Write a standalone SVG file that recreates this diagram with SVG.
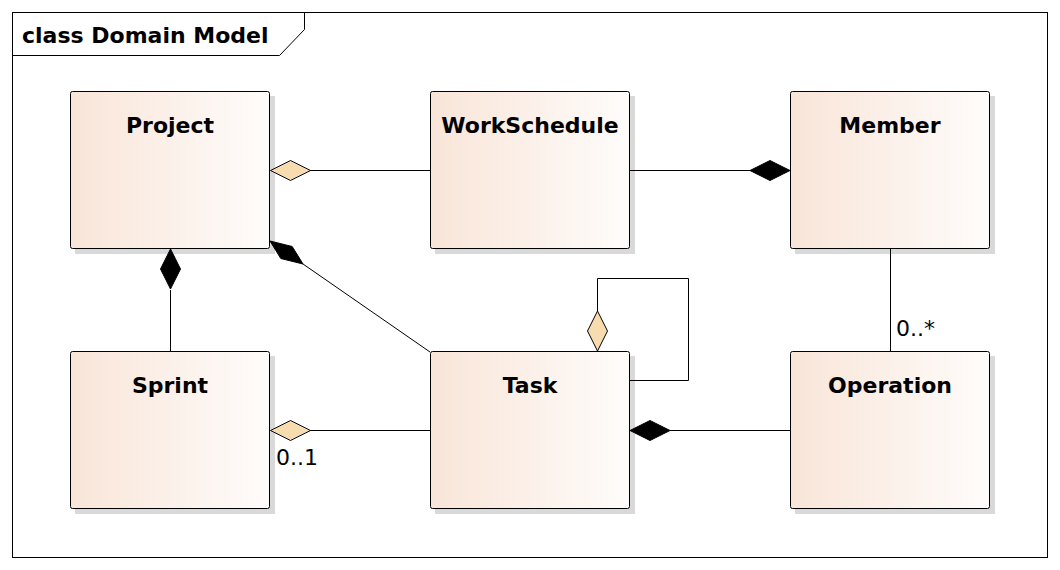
<svg xmlns="http://www.w3.org/2000/svg" width="1060" height="570" viewBox="0 0 1060 570">
<style>
.frame{fill:#fff;stroke:#000;stroke-width:1}
.box{stroke:#000;stroke-width:1;fill:url(#g)}
.sh{fill:#d9d9d9}
.t{font-family:"DejaVu Sans",Verdana,sans-serif;font-weight:bold;font-size:22px;fill:#000}
.title{font-family:"DejaVu Sans",Verdana,sans-serif;font-weight:bold;font-size:22px;fill:#000}
.lbl{font-family:"DejaVu Sans",Verdana,sans-serif;font-size:22px;fill:#000}
.ln{fill:none;stroke:#000;stroke-width:1}
.hol{fill:#f7dcb0;stroke:#000;stroke-width:1}
.fil{fill:#000;stroke:#000;stroke-width:1}
</style>
<defs>
<linearGradient id="g" x1="0" y1="0" x2="1" y2="0">
<stop offset="0" stop-color="#f9e5d8"/>
<stop offset="1" stop-color="#fefcfb"/>
</linearGradient>
</defs>
<rect class="frame" x="12.5" y="12.5" width="1035" height="545"/>
<path class="ln" d="M12.5 55.5 H279.5 L304.5 29.5 V12.5"/>
<text class="title" x="22" y="43">class Domain Model</text>

<g id="project">
<rect class="sh" x="75" y="96" width="200" height="158"/>
<rect class="box" x="70.5" y="91.5" width="199" height="157" rx="2"/>
<text class="t" x="170" y="133" text-anchor="middle">Project</text>
</g>
<g id="workschedule">
<rect class="sh" x="435" y="96" width="200" height="158"/>
<rect class="box" x="430.5" y="91.5" width="199" height="157" rx="2"/>
<text class="t" x="530" y="133" text-anchor="middle">WorkSchedule</text>
</g>
<g id="member">
<rect class="sh" x="795" y="96" width="200" height="158"/>
<rect class="box" x="790.5" y="91.5" width="199" height="157" rx="2"/>
<text class="t" x="890" y="133" text-anchor="middle">Member</text>
</g>
<g id="sprint">
<rect class="sh" x="75" y="356" width="200" height="158"/>
<rect class="box" x="70.5" y="351.5" width="199" height="157" rx="2"/>
<text class="t" x="170" y="393" text-anchor="middle">Sprint</text>
</g>
<g id="task">
<rect class="sh" x="435" y="356" width="200" height="158"/>
<rect class="box" x="430.5" y="351.5" width="199" height="157" rx="2"/>
<text class="t" x="530" y="393" text-anchor="middle">Task</text>
</g>
<g id="operation">
<rect class="sh" x="795" y="356" width="200" height="158"/>
<rect class="box" x="790.5" y="351.5" width="199" height="157" rx="2"/>
<text class="t" x="890" y="393" text-anchor="middle">Operation</text>
</g>

<g id="connectors">
<line class="ln" x1="310" y1="170.5" x2="430" y2="170.5"/>
<polygon class="hol" points="270.5,170.5 290.5,160.5 310.5,170.5 290.5,180.5"/>
<line class="ln" x1="629" y1="170.5" x2="750" y2="170.5"/>
<polygon class="fil" points="790,170.5 770,160.5 750,170.5 770,180.5"/>
<line class="ln" x1="170.5" y1="290" x2="170.5" y2="351"/>
<polygon class="fil" points="170.5,249 180.5,269 170.5,289 160.5,269"/>
<line class="ln" x1="303" y1="264" x2="430" y2="352"/>
<polygon class="fil" points="270,241 292.2,246.5 303,264 280.8,258.5"/>
<line class="ln" x1="310" y1="430.5" x2="430" y2="430.5"/>
<polygon class="hol" points="270.5,430.5 290.5,420.5 310.5,430.5 290.5,440.5"/>
<text class="lbl" x="276" y="465">0..1</text>
<path class="ln" d="M597.5 311 V278.5 H688.5 V380.5 H629"/>
<polygon class="hol" points="597.5,351 607.5,331 597.5,311 587.5,331"/>
<line class="ln" x1="890.5" y1="248" x2="890.5" y2="351"/>
<text class="lbl" x="896" y="336">0..*</text>
<line class="ln" x1="670" y1="430.5" x2="790" y2="430.5"/>
<polygon class="fil" points="630,430.5 650,420.5 670,430.5 650,440.5"/>
</g>
</svg>
